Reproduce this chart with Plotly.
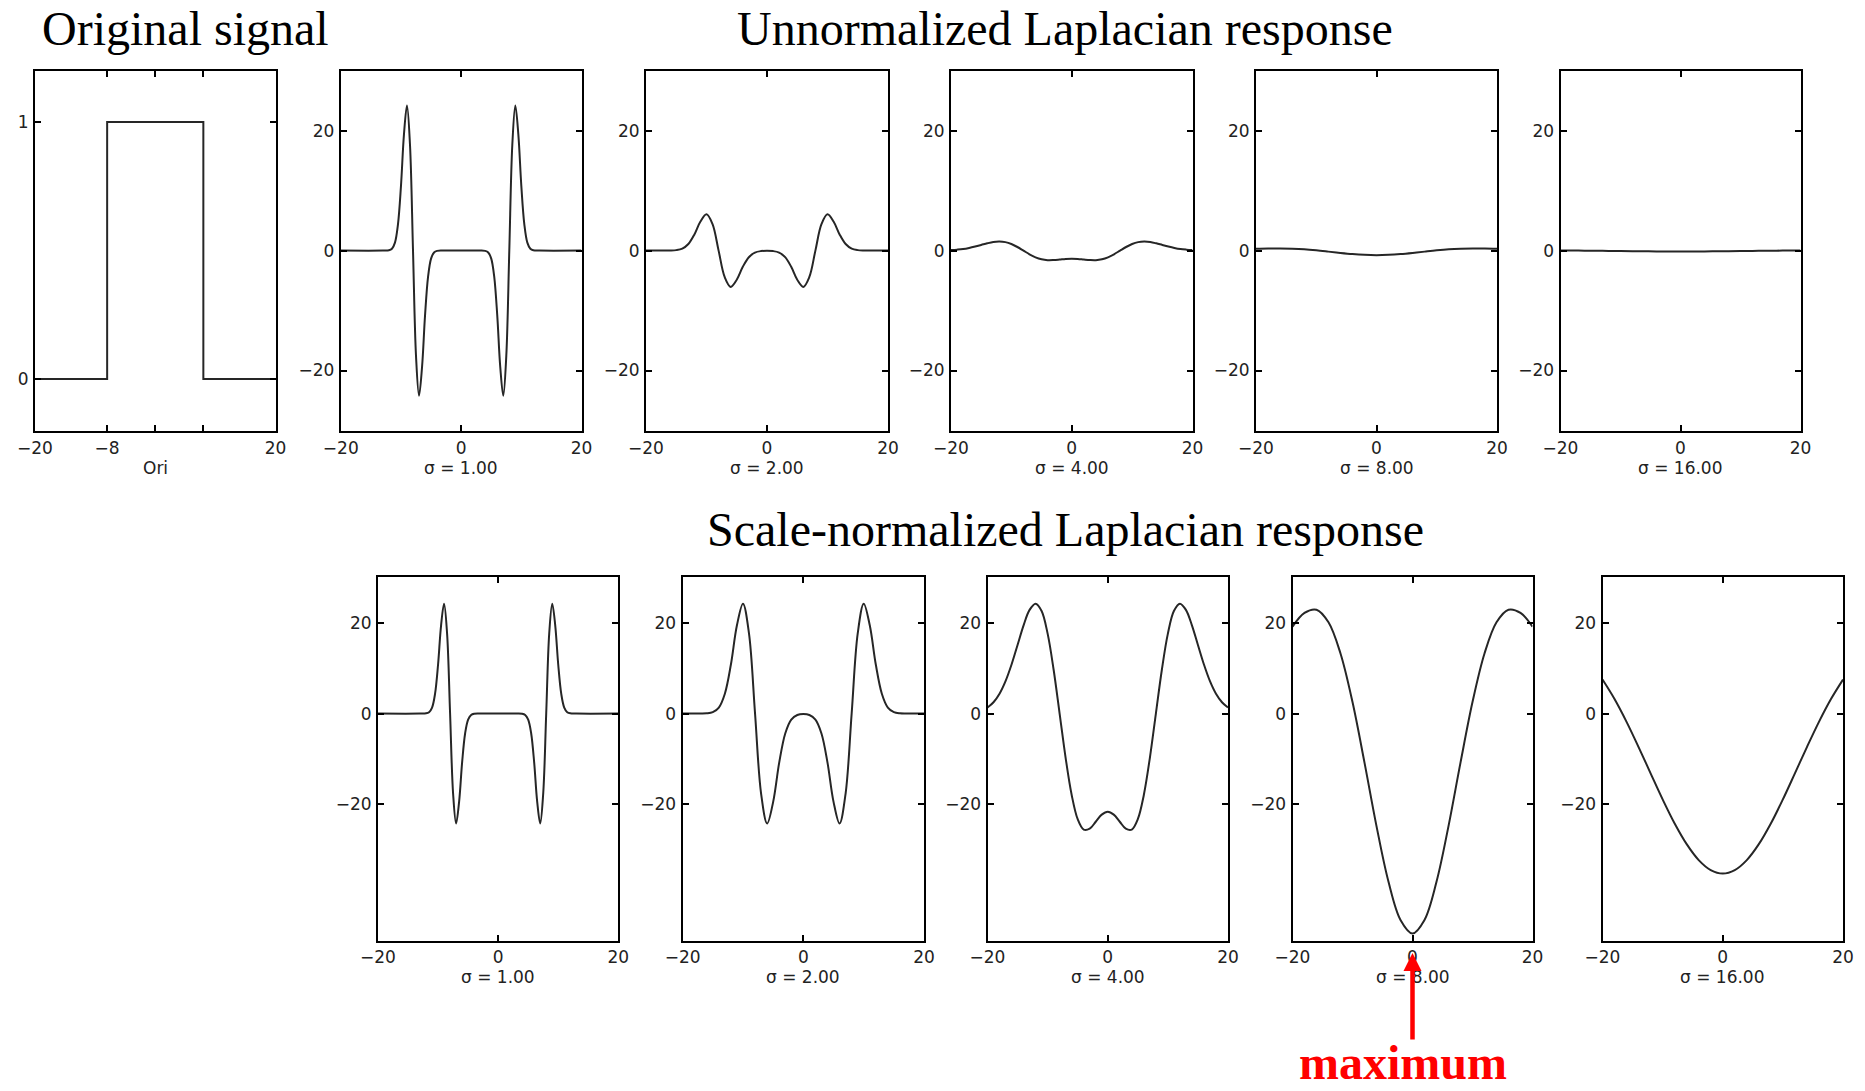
import plotly.graph_objects as go

# ---------------- data ----------------
X_ORI = [-20, -8, -8, 8, 8, 20]
Y_ORI = [0, 0, 1, 1, 0, 0]

X_FINE = [-20, -13, -12, -11.5, -11, -10.5, -10, -9.5, -9, -8.5, -8, -7.5, -7, -6.5, -6,
          -5.5, -5, -4.5, -4, -3, 0, 3, 4, 4.5, 5, 5.5, 6, 6.5, 7, 7.5, 8, 8.5, 9, 9.5,
          10, 10.5, 11, 11.5, 12, 13, 20]
X_UNIT = [-20, -19, -18, -17, -16, -15, -14, -13, -12, -11, -10, -9, -8, -7, -6, -5, -4,
          -3, -2, -1, 0, 1, 2, 3, 4, 5, 6, 7, 8, 9, 10, 11, 12, 13, 14, 15, 16, 17, 18,
          19, 20]
X_EVEN = [-20, -18, -16, -14, -12, -10, -8, -6, -4, -2, 0, 2, 4, 6, 8, 10, 12, 14, 16,
          18, 20]

# unnormalized Laplacian response
UNNORM_S1 = [0, 0, 0.05, 0.31, 1.33, 4.38, 10.80, 19.43, 24.20, 17.60, 0, -17.60, -24.20,
             -19.43, -10.80, -4.38, -1.33, -0.31, -0.05, 0, 0, 0, -0.05, -0.31, -1.33,
             -4.38, -10.80, -19.43, -24.20, -17.60, 0, 17.60, 24.20, 19.43, 10.80, 4.38,
             1.33, 0.31, 0.05, 0, 0]
UNNORM_S2 = [0, 0, 0, 0, 0.01, 0.08, 0.33, 1.10, 2.70, 4.86, 6.05, 4.40, 0, -4.40, -6.05,
             -4.86, -2.70, -1.10, -0.33, -0.08, -0.03, -0.08, -0.33, -1.10, -2.70, -4.86,
             -6.05, -4.40, 0, 4.40, 6.05, 4.86, 2.70, 1.10, 0.33, 0.08, 0.01, 0, 0, 0, 0]
UNNORM_S4 = [0.08, 0.16, 0.27, 0.45, 0.68, 0.94, 1.21, 1.43, 1.51, 1.41, 1.10, 0.60, 0.00,
             -0.61, -1.12, -1.45, -1.60, -1.58, -1.49, -1.39, -1.35, -1.39, -1.49, -1.58,
             -1.60, -1.45, -1.12, -0.61, 0.00, 0.60, 1.10, 1.41, 1.51, 1.43, 1.21, 0.94,
             0.68, 0.45, 0.27, 0.16, 0.08]
UNNORM_S8 = [0.30, 0.35, 0.36, 0.31, 0.21, 0.04, -0.17, -0.39, -0.58, -0.71, -0.76, -0.71,
             -0.58, -0.39, -0.17, 0.04, 0.21, 0.31, 0.36, 0.35, 0.30]
UNNORM_S16 = [0.03, 0.01, -0.01, -0.03, -0.05, -0.07, -0.09, -0.11, -0.13, -0.13, -0.14,
              -0.13, -0.13, -0.11, -0.09, -0.07, -0.05, -0.03, -0.01, 0.01, 0.03]

# scale-normalized Laplacian response
NORM_S1 = [0, 0, 0.05, 0.31, 1.33, 4.38, 10.80, 19.43, 24.20, 17.60, 0, -17.60, -24.20,
           -19.43, -10.80, -4.38, -1.33, -0.31, -0.05, 0, 0, 0, -0.05, -0.31, -1.33,
           -4.38, -10.80, -19.43, -24.20, -17.60, 0, 17.60, 24.20, 19.43, 10.80, 4.38,
           1.33, 0.31, 0.05, 0, 0]
NORM_S2 = [0, 0, 0, 0.01, 0.05, 0.31, 1.33, 4.38, 10.80, 19.43, 24.20, 17.60, 0, -17.60,
           -24.20, -19.43, -10.80, -4.38, -1.33, -0.31, -0.11, -0.31, -1.33, -4.38, -10.80,
           -19.43, -24.20, -17.60, 0, 17.60, 24.20, 19.43, 10.80, 4.38, 1.33, 0.31, 0.05,
           0.01, 0, 0, 0]
NORM_S4 = [1.33, 2.50, 4.38, 7.14, 10.80, 15.10, 19.43, 22.83, 24.20, 22.58, 17.60, 9.65,
           -0.05, -9.80, -17.91, -23.25, -25.53, -25.33, -23.81, -22.24, -21.60, -22.24,
           -23.81, -25.33, -25.53, -23.25, -17.91, -9.80, -0.05, 9.65, 17.60, 22.58, 24.20,
           22.83, 19.43, 15.10, 10.80, 7.14, 4.38, 2.50, 1.33]
NORM_S8 = [19.13, 22.17, 22.87, 20.09, 13.22, 2.53, -10.80, -24.77, -37.03, -45.42, -48.40,
           -45.42, -37.03, -24.77, -10.80, 2.53, 13.22, 20.09, 22.87, 22.17, 19.13]
NORM_S16 = [7.49, 3.20, -1.82, -7.37, -13.16, -18.89, -24.20, -28.75, -32.25, -34.45,
            -35.21, -34.45, -32.25, -28.75, -24.20, -18.89, -13.16, -7.37, -1.82, 3.20, 7.49]

SIGMA_LABELS = ["σ = 1.00", "σ = 2.00", "σ = 4.00", "σ = 8.00", "σ = 16.00"]
ORI_LABEL = "Ori"
TITLE_ORI = "Original signal"
TITLE_UNNORM = "Unnormalized Laplacian response"
TITLE_NORM = "Scale-normalized Laplacian response"
NOTE = "maximum"

# ---------------- layout / style ----------------
W, H = 1865, 1091
LINE_COLOR = "#262626"
TICKFONT = dict(family="DejaVu Sans, Liberation Sans, Arial, sans-serif", size=17,
                color="#222222")
SERIF = "Liberation Serif, Times New Roman, serif"


def py(px):  # pixel row -> paper y
    return 1 - px / H


def px_dom(a, b):
    return [a / W, b / W]


TOP_Y = [py(430.5), py(70.7)]
BOT_Y = [py(940.7), py(577.3)]

TOP_X = [(340.8, 581.5), (646.0, 888.0), (951.0, 1192.5), (1256.0, 1497.0), (1560.5, 1800.5)]
BOT_X = [(378.0, 618.3), (682.6, 924.1), (987.5, 1228.0), (1292.5, 1532.5), (1602.5, 1843.0)]

unnorm_series = [(X_FINE, UNNORM_S1), (X_UNIT, UNNORM_S2), (X_UNIT, UNNORM_S4),
                 (X_EVEN, UNNORM_S8), (X_EVEN, UNNORM_S16)]
norm_series = [(X_FINE, NORM_S1), (X_UNIT, NORM_S2), (X_UNIT, NORM_S4),
               (X_EVEN, NORM_S8), (X_EVEN, NORM_S16)]

panels = []
panels.append(dict(x=X_ORI, y=Y_ORI, shape="linear", xd=px_dom(35.0, 275.5), yd=TOP_Y,
                   yr=[-0.2, 1.2], yt=[0, 1], ytt=["0", "1"],
                   xt=[-20, -8, 0, 8, 20], xtt=["−20", "−8", "", "", "20"],
                   label=ORI_LABEL, ly=py(468), so=1))
for k, (xs, ys) in enumerate(unnorm_series):
    panels.append(dict(x=xs, y=ys, shape="spline", xd=px_dom(*TOP_X[k]), yd=TOP_Y,
                       yr=[-30, 30], yt=[-20, 0, 20], ytt=["−20", "0", "20"],
                       xt=[-20, 0, 20], xtt=["−20", "0", "20"],
                       label=SIGMA_LABELS[k], ly=py(468), so=1))
for k, (xs, ys) in enumerate(norm_series):
    panels.append(dict(x=xs, y=ys, shape="spline", xd=px_dom(*BOT_X[k]), yd=BOT_Y,
                       yr=[-50, 30], yt=[-20, 0, 20], ytt=["−20", "0", "20"],
                       xt=[-20, 0, 20], xtt=["−20", "0", "20"],
                       label=SIGMA_LABELS[k], ly=py(977), so=0))

fig = go.Figure()
axes = {}
annotations = []
for i, p in enumerate(panels, start=1):
    sx = "" if i == 1 else str(i)
    fig.add_trace(go.Scatter(x=p["x"], y=p["y"], mode="lines",
                             line=dict(color=LINE_COLOR, width=2, shape=p["shape"], smoothing=1),
                             xaxis="x" + sx, yaxis="y" + sx, showlegend=False,
                             hoverinfo="skip"))
    common = dict(ticks="inside", ticklen=6, tickwidth=1.5, tickcolor="black",
                  showline=True, linecolor="black", linewidth=2, mirror="ticks",
                  showgrid=False, zeroline=False, tickfont=TICKFONT, fixedrange=True,
                  tickmode="array", automargin=False)
    axes["xaxis" + sx] = dict(domain=p["xd"], range=[-20, 20], anchor="y" + sx,
                              tickvals=p["xt"], ticktext=p["xtt"],
                              ticklabelstandoff=p["so"], **common)
    axes["yaxis" + sx] = dict(domain=p["yd"], range=p["yr"], anchor="x" + sx,
                              tickvals=p["yt"], ticktext=p["ytt"], ticklabelstandoff=1,
                              **common)
    annotations.append(dict(text=p["label"], x=0.5, xref="x" + sx + " domain", y=p["ly"],
                            yref="paper", showarrow=False, xanchor="center",
                            yanchor="middle", font=TICKFONT))

# titles
annotations.append(dict(text=TITLE_ORI, x=185.5 / W, y=py(29), xref="paper", yref="paper",
                        showarrow=False, xanchor="center", yanchor="middle",
                        font=dict(family=SERIF, size=48, color="black")))
annotations.append(dict(text=TITLE_UNNORM, x=1064.6 / W, y=py(28), xref="paper",
                        yref="paper", showarrow=False, xanchor="center", yanchor="middle",
                        font=dict(family=SERIF, size=48, color="black")))
annotations.append(dict(text=TITLE_NORM, x=1065.3 / W, y=py(529), xref="paper",
                        yref="paper", showarrow=False, xanchor="center", yanchor="middle",
                        font=dict(family=SERIF, size=48, color="black")))

# red arrow to the maximum (at x = 0 in the sigma = 8 normalized panel)
annotations.append(dict(text="", x=0, xref="x10", y=py(953), yref="paper", showarrow=True,
                        ax=0, ay=88, arrowhead=2, arrowsize=0.8, arrowwidth=4.5,
                        arrowcolor="#ff0000", standoff=0))
annotations.append(dict(text="<b>" + NOTE + "</b>", x=0, xref="x10", xshift=-10,
                        y=0, yref="paper", showarrow=False, xanchor="center",
                        yanchor="bottom",
                        font=dict(family=SERIF, size=48, color="#ff0000")))

fig.update_layout(width=W, height=H, margin=dict(l=0, r=0, t=0, b=0),
                  paper_bgcolor="white", plot_bgcolor="white", template="none",
                  showlegend=False, annotations=annotations, **axes)

fig.write_html("out.html", config={"displayModeBar": False},
               post_script="document.body.style.margin='0px';"
                           "document.body.style.overflow='hidden';")
